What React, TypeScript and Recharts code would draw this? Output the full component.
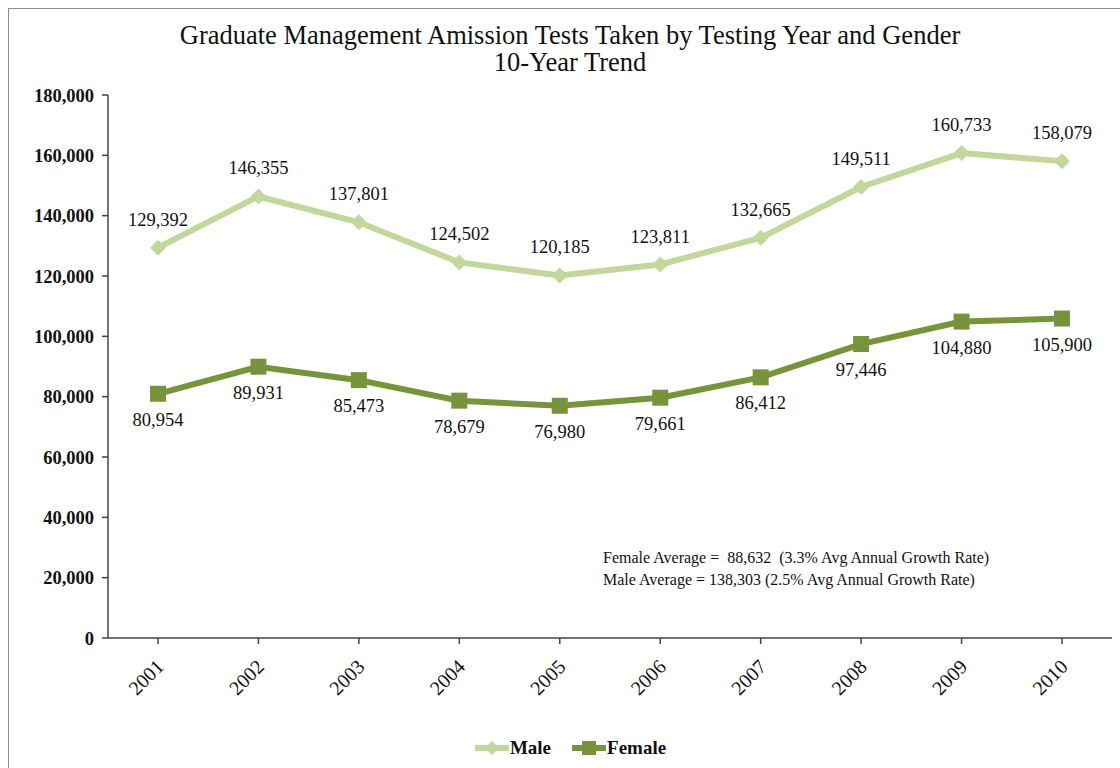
import { LineChart, Line, XAxis, YAxis, LabelList } from "recharts";

const years = ["2001", "2002", "2003", "2004", "2005", "2006", "2007", "2008", "2009", "2010"];
const maleTests = [129392, 146355, 137801, 124502, 120185, 123811, 132665, 149511, 160733, 158079];
const femaleTests = [80954, 89931, 85473, 78679, 76980, 79661, 86412, 97446, 104880, 105900];
const yTicks = [0, 20000, 40000, 60000, 80000, 100000, 120000, 140000, 160000, 180000];

const titleLines = ["Graduate Management Amission Tests Taken by Testing Year and Gender", "10-Year Trend"];
const noteLines = [
  "Female Average =  88,632  (3.3% Avg Annual Growth Rate)",
  "Male Average = 138,303 (2.5% Avg Annual Growth Rate)",
];

const MALE = "#c3d69b";
const FEMALE = "#77933c";
const FONT = '"Liberation Serif", "Times New Roman", serif';

const rows = years.map((year, i) => ({ year, male: maleTests[i], female: femaleTests[i] }));

const fmt = (v: number) => v.toLocaleString("en-US");

const Diamond = (props: any) => {
  const { cx, cy, index } = props;
  if (cx == null || cy == null) return <g key={`m-${index}`} />;
  const r = 8;
  return (
    <polygon
      key={`m-${index}`}
      points={`${cx},${cy - r} ${cx + r},${cy} ${cx},${cy + r} ${cx - r},${cy}`}
      fill={MALE}
    />
  );
};

const Square = (props: any) => {
  const { cx, cy, index } = props;
  if (cx == null || cy == null) return <g key={`f-${index}`} />;
  const s = 16;
  return <rect key={`f-${index}`} x={cx - s / 2} y={cy - s / 2} width={s} height={s} fill={FEMALE} />;
};

const labelAt = (dy: number) => (props: any) => {
  const x = props.x ?? props.viewBox?.x;
  const y = props.y ?? props.viewBox?.y;
  return (
    <text x={x} y={y + dy} textAnchor="middle" fontSize={18.5} fill="#111" fontFamily={FONT}>
      {fmt(Number(props.value))}
    </text>
  );
};

const XTick = (props: any) => {
  const { x, y, payload } = props;
  return (
    <text
      x={x + 7}
      y={y + 22}
      transform={`rotate(-45, ${x + 7}, ${y + 22})`}
      textAnchor="end"
      fontSize={20}
      fill="#111"
      fontFamily={FONT}
    >
      {payload.value}
    </text>
  );
};

export default function App() {
  return (
    <div
      style={{
        position: "absolute",
        left: 0,
        top: 0,
        width: 1120,
        height: 768,
        overflow: "hidden",
        background: "#fff",
        fontFamily: FONT,
      }}
    >
      <div
        style={{
          position: "absolute",
          left: 8,
          top: 8,
          width: 1200,
          height: 900,
          borderLeft: "1.5px solid #8c8c8c",
          borderTop: "1.5px solid #8c8c8c",
        }}
      />
      <div style={{ position: "absolute", left: 0, top: 22, width: 1140, textAlign: "center", fontSize: 26.5, lineHeight: "27px", color: "#111" }}>
        {titleLines.map((t) => (
          <div key={t}>{t}</div>
        ))}
      </div>
      <div style={{ position: "absolute" }}>
        <LineChart width={1120} height={768} data={rows} margin={{ top: 95, right: 8, left: 8, bottom: 70 }}>
          <XAxis
            dataKey="year"
            padding={{ left: 50, right: 50 }}
            stroke="#444"
            strokeWidth={1.5}
            tickLine={{ stroke: "#444" }}
            tickSize={6}
            height={60}
            tick={<XTick />}
            interval={0}
          />
          <YAxis
            domain={[0, 180000]}
            ticks={yTicks}
            width={100}
            stroke="#444"
            strokeWidth={1.5}
            tickSize={6}
            tickMargin={8}
            tickFormatter={fmt}
            tick={{ fontSize: 18.5, fill: "#111", fontFamily: FONT, fontWeight: 600 }}
          />
          <Line
            dataKey="male"
            stroke={MALE}
            strokeWidth={6}
            dot={<Diamond />}
            activeDot={false}
            isAnimationActive={false}
          >
            <LabelList dataKey="male" content={labelAt(-22)} />
          </Line>
          <Line
            dataKey="female"
            stroke={FEMALE}
            strokeWidth={6}
            dot={<Square />}
            activeDot={false}
            isAnimationActive={false}
          >
            <LabelList dataKey="female" content={labelAt(32)} />
          </Line>
        </LineChart>
      </div>
      <div style={{ position: "absolute", left: 603, top: 547, fontSize: 16, lineHeight: "22px", color: "#111", whiteSpace: "pre" }}>
        {noteLines.map((t) => (
          <div key={t}>{t}</div>
        ))}
      </div>
      <div
        style={{
          position: "absolute",
          left: 0,
          top: 737,
          width: 1140,
          display: "flex",
          justifyContent: "center",
          alignItems: "center",
          fontSize: 19,
          fontWeight: 700,
          color: "#111",
        }}
      >
        <svg width={36} height={16}>
          <line x1={1} y1={8} x2={35} y2={8} stroke={MALE} strokeWidth={6} />
          <polygon points="18,1 25,8 18,15 11,8" fill={MALE} />
        </svg>
        <span style={{ marginRight: 20 }}>Male</span>
        <svg width={36} height={16}>
          <line x1={1} y1={8} x2={35} y2={8} stroke={FEMALE} strokeWidth={6} />
          <rect x={11} y={1} width={14} height={14} fill={FEMALE} />
        </svg>
        <span>Female</span>
      </div>
    </div>
  );
}
